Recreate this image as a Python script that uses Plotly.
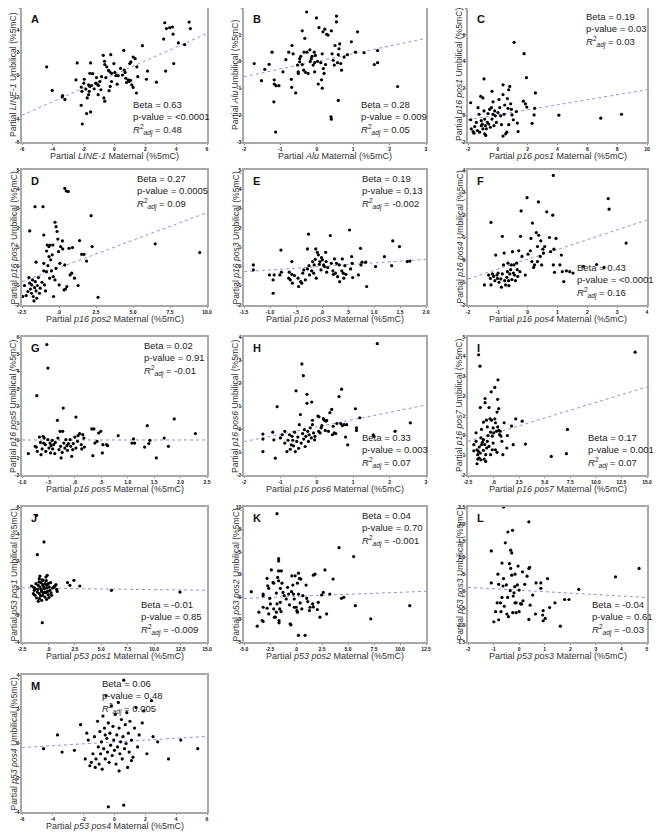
import plotly.graph_objects as go

# ---- data ----
A_pts = [(-4.40, 0.73), (-4.04, -1.38), (-3.37, -1.84), (-3.39, -1.96), (-3.22, -2.19), (-2.42, 1.08),
         (-2.50, -0.44), (-2.16, -1.08), (-2.11, -1.46), (-2.16, -2.72), (-2.09, -4.39), (-1.96, -0.38),
         (-1.99, -0.73), (-1.86, -1.26), (-1.77, -2.05), (-1.68, -1.76), (-1.81, -3.45), (-1.55, -3.31),
         (-1.55, 1.08), (-1.60, 0.15), (-1.42, 0.12), (-1.68, -0.88), (-1.60, -1.02), (-1.49, -0.94),
         (-1.64, -1.46), (-1.32, -1.23), (-1.21, -0.73), (-1.12, -0.82), (-1.04, -0.94), (-1.17, -0.23),
         (-1.06, -1.76), (-0.95, -0.58), (-0.84, -0.15), (-0.88, -1.32), (-0.73, 1.76), (-0.65, 1.23),
         (-0.63, 0.94), (-0.69, -2.05), (-0.63, -2.34), (-0.56, -0.23), (-0.50, 0.73), (-0.39, 0.41),
         (-0.30, 0.29), (-0.24, 1.82), (-0.35, -1.40), (-0.28, -1.02), (-0.19, -0.58), (-0.19, 0.15),
         (-0.04, 1.02), (0.02, 0.23), (0.09, -0.06), (0.17, -0.82), (0.24, -0.06), (0.39, 0.59),
         (0.52, 0.00), (0.60, 2.20), (0.63, 0.44), (0.69, 0.23), (0.73, -0.29), (0.78, -0.67),
         (0.89, -0.44), (0.95, -0.58), (1.04, -0.47), (1.12, -0.88), (1.21, -1.11), (0.99, 1.02),
         (1.06, 1.17), (1.21, 1.61), (1.34, 1.46), (1.45, 0.73), (1.51, -0.15), (1.42, -1.61),
         (1.81, 2.63), (2.14, 0.35), (2.07, -0.38), (2.72, -0.64), (3.19, 3.22), (3.26, 4.68),
         (3.37, 4.16), (3.58, 4.24), (3.76, 4.30), (3.80, 3.66), (3.84, 1.02), (3.32, 0.35),
         (4.14, 2.87), (4.55, 2.72), (4.84, 4.74), (4.92, 4.16)]

B_pts = [(-1.72, -0.07), (-1.43, -0.29), (-1.31, -0.10), (-1.52, -0.71), (-1.23, 0.35), (-1.17, -0.68),
         (-1.17, -0.84), (-1.12, -0.90), (-1.04, -0.90), (-1.18, -1.50), (-1.13, -2.63), (-0.93, -0.38),
         (-0.85, 0.07), (-0.77, 0.35), (-0.70, -0.66), (-0.69, -0.96), (-0.68, 0.60), (-0.65, 0.29),
         (-0.58, -1.17), (-0.53, -0.13), (-0.51, -0.38), (-0.47, -0.01), (-0.44, 0.20), (-0.40, -0.11),
         (-0.40, 1.15), (-0.33, 0.87), (-0.35, 0.35), (-0.28, 1.85), (-0.27, 0.35), (-0.19, 0.44),
         (-0.36, -0.32), (-0.31, -0.40), (-0.24, -0.44), (-0.18, 0.01), (-0.15, 0.11), (-0.13, 0.20),
         (-0.10, -0.13), (-0.07, 0.35), (-0.06, -0.38), (-0.04, 0.23), (-0.01, 1.63), (0.02, 0.01),
         (0.04, -0.84), (0.06, 1.27), (0.11, -0.04), (0.13, -0.68), (0.15, -0.99), (0.17, 1.11),
         (0.15, 0.29), (0.18, -0.26), (0.20, -0.44), (0.22, 1.21), (0.27, 1.02), (0.31, 0.99),
         (0.24, -0.11), (0.39, -2.06), (0.40, -2.15), (0.40, 1.15), (0.42, 0.29), (0.45, 0.05),
         (0.50, 0.60), (0.48, -0.13), (0.54, 1.70), (0.54, 1.48), (0.57, -0.04), (0.59, -1.45),
         (0.61, 0.48), (0.63, 0.66), (0.59, 0.26), (0.66, -0.07), (0.68, -0.32), (0.75, 0.17),
         (0.84, 0.26), (0.95, 0.74), (1.06, 0.35), (1.12, 1.11), (1.30, 0.33), (1.58, -0.11),
         (1.67, 0.41), (1.67, -0.04), (2.22, -0.93), (-0.51, -0.44), (-0.47, 0.11), (-0.06, -0.04)]

C_pts = [(-1.82, 0.93), (-1.82, -0.34), (-1.78, -1.02), (-1.66, -1.22), (-1.60, -1.34), (-1.55, -0.85),
         (-1.44, -0.54), (-1.37, -1.15), (-1.33, 0.56), (-1.26, 0.07), (-1.22, -1.27), (-1.15, 1.41),
         (-1.11, -0.78), (-1.11, -0.41), (-1.04, -0.66), (-1.00, 1.29), (-1.00, -1.02), (-0.93, 2.71),
         (-0.93, 0.32), (-0.88, -0.29), (-0.88, -1.39), (-0.84, -0.78), (-0.81, -1.51), (-0.77, -1.02),
         (-0.70, -0.54), (-0.66, 0.12), (-0.61, -0.66), (-0.55, 0.44), (-0.50, -0.90), (-0.43, 0.56),
         (-0.39, -0.29), (-0.32, 1.00), (-0.32, 0.07), (-0.26, -0.78), (-0.39, 1.78), (-0.21, 0.32),
         (-0.17, -0.05), (-0.10, -0.54), (0.01, 0.20), (0.08, 1.17), (0.13, 0.56), (0.19, -0.05),
         (0.24, -0.71), (0.35, 2.27), (0.35, 1.54), (0.35, -1.56), (0.42, 0.07), (0.46, 0.76),
         (0.53, -1.39), (0.60, -1.27), (0.64, 1.24), (0.68, 0.51), (0.73, -0.71), (0.73, 1.90),
         (0.80, 2.15), (0.86, 0.85), (0.91, 0.44), (0.95, 0.02), (1.09, 5.44), (1.04, -0.34),
         (1.24, 0.27), (1.31, -0.59), (1.36, -1.22), (1.71, 1.05), (1.76, 4.59), (1.85, 0.85),
         (1.92, 2.80), (1.94, 0.61), (2.30, -0.61), (2.43, 0.02), (2.47, 0.51), (2.52, 1.66),
         (4.09, 0.00), (6.90, -0.22), (8.29, 0.07)]

D_pts = [(-2.45, -1.56), (-2.33, -0.99), (-2.22, -1.51), (-2.10, -1.30), (-2.03, -0.58), (-1.98, -0.87),
         (-1.93, -1.17), (-1.98, 1.84), (-1.86, -1.39), (-1.84, -0.96), (-1.79, -0.70), (-1.74, -1.56),
         (-1.69, -1.79), (-1.65, -1.10), (-1.60, -0.79), (-1.55, -1.27), (-1.55, 0.22), (-1.62, 3.10),
         (-1.50, -1.65), (-1.46, -0.99), (-1.39, -0.58), (-1.32, -1.39), (-1.27, -1.13), (-1.15, -0.82),
         (-1.08, 3.10), (-1.03, 1.63), (-1.03, 0.16), (-1.03, -0.23), (-0.98, -0.96), (-0.91, -1.27),
         (-0.84, -0.27), (-0.84, 0.80), (-0.79, 1.11), (-0.75, 0.04), (-0.68, 1.03), (-0.68, 0.51),
         (-0.63, -0.61), (-0.60, 1.11), (-0.56, 0.34), (-0.51, -0.23), (-0.46, 0.60), (-0.41, 1.11),
         (-0.39, -0.53), (-0.37, -1.56), (-0.27, -0.70), (-0.27, 2.29), (-0.20, 2.06), (-0.20, -0.10),
         (-0.13, 1.81), (-0.08, 1.42), (-0.03, 0.77), (0.01, -0.96), (0.06, 0.16), (0.11, 1.03),
         (0.23, 1.32), (0.25, 0.91), (0.34, -1.22), (0.39, 0.08), (0.39, 4.05), (0.44, -1.17),
         (0.49, 3.91), (0.53, -1.04), (0.63, 3.88), (0.75, -0.44), (0.86, -0.35), (0.68, 0.94),
         (0.91, 0.98), (1.05, -0.61), (1.29, -0.99), (1.39, 1.34), (1.53, 0.63), (1.69, 0.63),
         (1.86, 0.28), (2.17, 2.63), (2.24, 1.03), (2.64, -1.60), (6.50, 1.17), (9.51, 0.72)]

E_pts = [(-1.32, 0.08), (-1.32, -0.18), (-1.01, -0.44), (-0.94, -0.70), (-0.92, -0.44), (-0.94, -1.39),
         (-0.79, 0.85), (-0.81, -0.44), (-0.78, -0.30), (-0.64, -0.61), (-0.63, -0.30), (-0.61, -0.70),
         (-0.58, 0.25), (-0.58, -0.41), (-0.57, -0.87), (-0.53, -0.47), (-0.46, -0.61), (-0.45, -1.04),
         (-0.41, -0.79), (-0.39, -0.87), (-0.37, -0.35), (-0.35, -0.18), (-0.32, -0.70), (-0.28, -0.13),
         (-0.28, 0.91), (-0.26, 1.67), (-0.25, 0.04), (-0.24, -0.44), (-0.20, -0.23), (-0.18, 0.25),
         (-0.16, -0.35), (-0.15, 0.08), (-0.13, 0.37), (-0.12, 0.91), (-0.11, -0.61), (-0.09, 0.73),
         (-0.07, 0.60), (-0.05, 0.11), (-0.04, 0.25), (-0.02, -0.18), (-0.01, 0.46), (0.01, 0.34),
         (0.03, 0.08), (0.05, -0.01), (0.07, 0.73), (0.08, 0.25), (0.09, -0.30), (0.11, -0.06),
         (0.16, 1.60), (0.18, 0.16), (0.21, -0.23), (0.22, -0.41), (0.24, 0.39), (0.26, -0.35),
         (0.28, 0.16), (0.30, -0.53), (0.33, 0.08), (0.34, -0.79), (0.38, -0.23), (0.39, 0.39),
         (0.41, -0.35), (0.42, -0.61), (0.44, 0.04), (0.46, -0.41), (0.53, 1.89), (0.55, -0.13),
         (0.57, 0.51), (0.58, 0.16), (0.59, -0.58), (0.70, -0.44), (0.74, 0.94), (0.75, 0.08),
         (0.77, 0.22), (0.84, 0.22), (0.86, -1.04), (1.03, -0.01), (1.20, 0.51), (1.34, 0.04),
         (1.36, 1.32), (1.49, 1.03), (1.64, 0.25), (1.69, 0.28)]

F_pts = [(-1.45, -1.11), (-1.23, 1.67), (-1.31, -0.67), (-1.25, -0.82), (-1.23, -1.11), (-1.18, -0.62),
         (-1.14, -0.73), (-1.10, -0.92), (-1.07, 0.22), (-1.03, -0.67), (-1.01, -0.82), (-0.99, -0.58),
         (-0.96, -0.99), (-0.90, -0.84), (-0.88, -1.21), (-0.85, 1.05), (-0.85, -0.62), (-0.81, -0.22),
         (-0.79, 0.31), (-0.77, -0.92), (-0.74, -1.11), (-0.70, -0.77), (-0.68, -0.52), (-0.66, -0.14),
         (-0.64, -0.92), (-0.63, -1.14), (-0.60, -0.62), (-0.57, -0.43), (-0.55, -0.22), (-0.53, -0.87),
         (-0.51, 0.37), (-0.48, -0.58), (-0.46, -0.22), (-0.44, -0.67), (-0.41, -0.92), (-0.37, -0.14),
         (-0.35, -0.43), (-0.33, -0.73), (-0.30, 0.41), (-0.26, -0.52), (-0.24, 1.05), (-0.22, 2.18),
         (-0.19, 0.16), (-0.08, -0.67), (-0.02, 2.77), (0.01, 0.26), (0.09, 0.41), (0.11, 0.96),
         (0.14, -0.07), (0.16, 1.64), (0.20, -0.33), (0.23, -0.22), (0.29, 1.22), (0.33, 0.60),
         (0.33, -0.07), (0.36, 2.58), (0.37, 1.10), (0.42, 0.16), (0.44, 0.85), (0.47, -0.22),
         (0.51, 0.48), (0.53, 0.31), (0.57, 0.60), (0.64, 2.14), (0.73, 1.00), (0.77, 0.37),
         (0.84, 1.99), (0.86, 3.76), (0.86, -0.22), (0.88, 0.48), (0.90, -0.55), (0.95, 0.96),
         (1.08, -0.22), (1.13, 0.22), (1.16, -0.52), (1.21, -0.96), (1.30, -0.48), (1.41, -0.52),
         (1.52, -0.58), (1.87, -0.28), (2.31, -0.20), (2.56, -0.33), (2.70, 2.73), (2.73, 2.26),
         (3.30, 0.75)]

G_pts = [(-0.88, -0.76), (-0.75, -0.34), (-0.73, -0.38), (-0.72, 2.60), (-0.71, -0.63), (-0.67, 0.20),
         (-0.65, -0.11), (-0.64, -0.82), (-0.62, -0.49), (-0.60, 0.24), (-0.59, -0.15), (-0.58, 0.14),
         (-0.56, -0.24), (-0.55, -0.63), (-0.53, 5.56), (-0.51, 4.20), (-0.51, 0.05), (-0.49, -0.44),
         (-0.47, -0.15), (-0.46, -0.72), (-0.45, -0.30), (-0.43, 0.01), (-0.42, -0.49), (-0.40, -0.24),
         (-0.38, -0.76), (-0.37, -0.11), (-0.33, 1.17), (-0.32, 0.14), (-0.30, -0.53), (-0.28, 0.53),
         (-0.27, -0.34), (-0.26, -1.01), (-0.24, -0.69), (-0.23, 0.53), (-0.22, 1.88), (-0.21, -0.15),
         (-0.19, -0.44), (-0.17, 0.05), (-0.15, -0.30), (-0.14, -0.57), (-0.12, -0.18), (-0.09, 0.05),
         (-0.08, -0.34), (-0.06, -0.92), (-0.04, -0.53), (-0.03, -0.18), (0.00, 0.20), (0.02, 1.36),
         (0.02, -0.44), (0.05, -0.05), (0.06, 0.28), (0.09, 0.40), (0.12, -0.24), (0.13, -0.49),
         (0.15, 0.34), (0.17, 0.14), (0.18, -0.38), (0.32, 0.67), (0.34, -0.88), (0.36, 0.67),
         (0.38, -0.15), (0.42, -0.05), (0.45, 0.43), (0.49, 0.53), (0.52, -0.72), (0.53, -0.24),
         (0.60, -0.24), (0.62, -0.30), (0.82, 0.28), (1.08, -0.15), (1.11, 0.09), (1.13, -0.15),
         (1.32, -0.38), (1.37, 0.86), (1.40, -0.18), (1.42, 0.01), (1.54, -1.01), (1.69, 0.14),
         (1.77, -0.34), (1.88, 1.25), (2.28, 0.40)]

H_pts = [(-1.48, -0.22), (-1.48, -0.44), (-1.48, -0.98), (-1.21, -0.14), (-1.18, -0.47), (-1.14, -1.27),
         (-1.09, 0.97), (-1.00, -0.39), (-0.95, -0.25), (-0.88, -0.10), (-0.88, -0.61), (-0.82, -0.98),
         (-0.79, -0.49), (-0.75, -0.25), (-0.73, -0.88), (-0.70, -0.69), (-0.68, -0.32), (-0.66, -0.49),
         (-0.64, -0.73), (-0.61, -0.14), (-0.59, -0.98), (-0.57, 1.66), (-0.55, -0.54), (-0.52, -0.35),
         (-0.50, -0.84), (-0.48, 0.19), (-0.45, 0.63), (-0.43, -0.61), (-0.41, 2.83), (-0.39, -0.20),
         (-0.37, 2.32), (-0.36, -0.44), (-0.34, -0.03), (-0.32, -0.76), (-0.30, -0.32), (-0.27, 1.51),
         (-0.27, 1.12), (-0.25, -0.10), (-0.23, -0.54), (-0.21, -0.25), (-0.18, 0.05), (-0.15, -0.39),
         (-0.14, 1.17), (-0.12, 0.38), (-0.12, 0.19), (-0.09, -0.17), (-0.06, -0.47), (-0.05, -0.32),
         (0.03, 0.56), (0.05, -0.10), (0.06, 0.53), (0.09, -0.17), (0.12, 0.05), (0.14, 0.15),
         (0.18, 0.45), (0.21, 0.38), (0.23, -0.06), (0.25, 0.34), (0.27, 0.38), (0.32, -0.10),
         (0.36, 0.71), (0.41, 0.85), (0.43, -0.25), (0.45, 0.12), (0.48, -0.17), (0.52, -0.20),
         (0.55, 0.24), (0.61, 1.41), (0.66, 0.24), (0.68, 1.73), (0.70, 0.15), (0.75, 0.19),
         (0.79, -0.35), (0.82, 0.19), (0.85, -0.69), (1.06, 0.88), (1.09, 0.05), (1.09, -0.06),
         (1.18, 0.49), (1.55, -0.25), (1.57, -0.32), (1.66, 3.71), (2.15, -0.10), (2.57, 0.27)]

I_pts = [(-1.93, -0.46), (-1.93, -0.77), (-1.71, -0.29), (-1.71, 0.14), (-1.62, -0.72), (-1.62, -1.43),
         (-1.55, -0.97), (-1.55, -1.19), (-1.49, -0.80), (-1.46, 4.10), (-1.40, -0.58), (-1.40, -1.14),
         (-1.33, 3.52), (-1.30, -0.89), (-1.30, 1.42), (-1.24, -0.12), (-1.24, -1.23), (-1.18, -0.46),
         (-1.18, 0.31), (-1.08, -0.34), (-0.99, 0.68), (-0.99, -0.75), (-0.92, -1.19), (-0.86, -0.46),
         (-0.83, 1.88), (-0.83, 1.67), (-0.77, -0.97), (-0.77, -1.31), (-0.70, 0.78), (-0.67, -0.63),
         (-0.61, 0.44), (-0.61, -0.29), (-0.54, 0.00), (-0.45, 1.42), (-0.35, 0.85), (-0.29, 0.17),
         (-0.29, -0.97), (-0.23, 2.22), (-0.20, 0.78), (-0.13, -0.03), (-0.04, 0.39), (-0.04, -0.38),
         (0.02, 0.14), (0.12, 0.85), (0.12, 2.44), (0.18, 0.65), (0.18, -0.72), (0.28, 0.22),
         (0.34, 1.19), (0.34, -0.85), (0.40, 1.84), (0.40, 0.44), (0.43, 2.83), (0.50, 1.37),
         (0.50, 0.27), (0.59, 0.05), (0.65, 0.22), (0.72, -0.03), (0.81, -0.29), (0.91, -0.97),
         (1.03, 0.65), (1.29, -0.63), (1.35, 0.00), (1.76, 0.48), (1.92, -0.46), (2.17, 0.85),
         (2.80, 0.73), (3.12, -0.43), (5.64, -1.06), (7.12, -0.92), (7.22, 0.31), (13.84, 4.23),
         (-0.99, -0.21), (-0.45, -0.55), (-0.13, -0.72)]

J_pts = [(-1.59, 0.15), (-1.43, -0.42), (-1.34, -0.17), (-1.27, -0.54), (-1.18, 0.32), (-1.12, -0.74),
         (-1.12, 5.38), (-1.05, 2.47), (-1.02, -0.10), (-0.96, -0.99), (-0.86, 0.69), (-0.86, -0.42),
         (-0.80, 0.89), (-0.80, 0.07), (-0.74, -0.59), (-0.71, 0.40), (-0.64, -0.25), (-0.64, -0.91),
         (-0.58, -2.57), (-0.55, 0.25), (-0.49, 0.57), (-0.49, -0.35), (-0.42, 3.41), (-0.39, -0.05),
         (-0.33, -0.67), (-0.30, 0.32), (-0.24, 0.81), (-0.24, -0.35), (-0.17, 0.00), (-0.17, -0.84),
         (-0.11, 0.94), (-0.08, -0.25), (-0.02, 0.32), (-0.02, -0.49), (0.08, 0.07), (0.14, -0.17),
         (0.20, 0.40), (0.30, -0.54), (0.39, 0.00), (0.52, 0.07), (0.61, 0.15), (0.71, 0.25),
         (0.77, -0.10), (0.83, -0.25), (1.81, 0.40), (2.03, 0.20), (2.41, 0.57), (2.97, 0.15),
         (5.96, -0.17), (12.44, -0.30), (-1.27, -0.05), (-0.96, 0.20), (-0.33, -0.30), (-0.55, -0.54),
         (-0.86, -0.79), (-1.40, 0.05), (-0.70, -0.10), (-0.45, 0.10), (-0.20, 0.55), (0.05, -0.70),
         (-1.05, -0.30), (-0.60, 0.60), (0.25, -0.35), (-0.90, 0.45), (-0.15, 0.20)]

K_pts = [(-4.30, 0.59), (-3.16, 0.33), (-3.16, 0.15), (-3.73, -3.24), (-3.57, -1.69), (-3.25, -2.61),
         (-3.16, -2.72), (-3.16, -1.14), (-2.78, 2.06), (-2.71, 1.25), (-2.62, 0.96), (-2.78, -1.25),
         (-2.62, -1.88), (-2.52, -0.15), (-2.46, -0.77), (-2.37, 3.01), (-2.21, 1.62), (-2.14, 1.54),
         (-2.14, -1.32), (-2.08, -2.24), (-1.98, -2.24), (-1.89, 0.44), (-1.89, -1.69), (-1.83, 9.26),
         (-1.83, -0.77), (-1.76, 2.17), (-1.67, 4.26), (-1.67, 4.00), (-1.67, 2.90), (-1.67, 1.80),
         (-1.63, -2.61), (-1.63, -2.87), (-1.57, -1.32), (-1.51, 0.96), (-1.51, -0.59), (-1.44, -1.62),
         (-1.41, 2.90), (-1.35, 1.54), (-1.25, 0.51), (-1.13, 0.15), (-0.94, -0.22), (-0.81, 1.07),
         (-0.71, 0.33), (-0.62, -0.88), (-0.56, -2.98), (-0.49, -3.09), (-0.43, 0.59), (-0.40, 2.35),
         (-0.30, 1.32), (-0.24, 0.33), (-0.17, -0.22), (-0.17, -1.14), (-0.08, 2.35), (0.02, -1.14),
         (0.08, -1.51), (0.14, -1.69), (0.14, 1.54), (0.24, 0.33), (0.24, 2.65), (0.24, -4.26),
         (0.33, 2.06), (0.40, -0.66), (0.46, 1.99), (0.56, -1.32), (0.65, 0.15), (0.87, -4.26),
         (0.97, 1.32), (1.03, -0.15), (1.13, -0.51), (1.29, -1.51), (1.35, -1.14), (1.60, -0.77),
         (1.67, 2.43), (1.83, 2.54), (2.05, -1.40), (2.14, -0.59), (2.30, -2.24), (2.46, 0.22),
         (1.67, -1.10), (2.78, 3.01), (2.62, 0.51), (3.57, 1.99), (2.94, -1.88), (3.25, 0.33),
         (4.14, 5.48), (4.37, -0.15), (4.59, -0.04), (5.54, 4.49), (5.70, -0.96), (7.19, -2.43),
         (10.94, -0.96)]

L_pts = [(-1.09, 1.20), (-1.09, 0.25), (-0.99, -0.90), (-0.92, -0.60), (-0.86, -0.34), (-0.83, 0.51),
         (-0.80, -0.84), (-0.80, 0.21), (-0.73, -0.34), (-0.71, -0.60), (-0.67, 0.84), (-0.67, -0.18),
         (-0.63, 0.16), (-0.61, 2.50), (-0.61, 0.38), (-0.58, -0.44), (-0.54, 1.44), (-0.50, 0.19),
         (-0.48, -0.67), (-0.45, -0.18), (-0.44, 1.76), (-0.42, -0.75), (-0.38, 0.82), (-0.35, 0.02),
         (-0.33, 0.68), (-0.33, 1.22), (-0.29, 1.14), (-0.29, 0.48), (-0.26, 1.81), (-0.25, -0.63),
         (-0.23, -0.14), (-0.20, -0.04), (-0.17, 0.14), (-0.16, -0.34), (-0.16, 0.51), (-0.12, -0.63),
         (-0.12, -0.34), (-0.07, 0.19), (-0.04, 0.75), (0.00, 0.04), (0.00, -0.60), (0.05, -0.36),
         (0.09, -0.38), (0.13, 0.58), (0.15, -0.28), (0.22, 0.21), (0.31, 0.45), (0.38, 0.68),
         (0.41, 0.71), (0.38, 2.06), (0.43, -0.41), (0.38, -0.83), (0.53, -0.11), (0.64, -0.67),
         (0.66, 0.25), (0.85, 0.25), (0.85, 0.09), (0.92, -0.70), (0.94, -0.87), (0.94, -0.57),
         (1.02, -0.80), (1.11, 0.38), (1.19, -0.48), (1.40, -0.34), (1.61, -1.03), (1.78, -0.24),
         (1.95, -0.24), (2.33, 0.06), (3.77, 0.43), (4.69, 0.68)]

M_pts = [(-4.60, -0.30), (-3.70, 0.50), (-3.40, -0.50), (-2.60, -0.40), (-2.20, 1.10), (-1.90, -0.90),
         (-1.70, 0.20), (-1.60, -1.30), (-1.50, -1.10), (-1.40, -0.60), (-1.30, 0.40), (-1.25, -1.40),
         (-1.20, -0.90), (-1.10, 1.30), (-1.05, -0.20), (-1.00, -1.20), (-0.95, 0.70), (-0.90, -0.60),
         (-0.85, 0.10), (-0.80, -1.50), (-0.75, 1.60), (-0.70, -0.30), (-0.65, 0.90), (-0.60, -0.90),
         (-0.55, 2.80), (-0.50, 0.30), (-0.45, -0.50), (-0.40, 1.20), (-0.35, -1.10), (-0.30, 0.60),
         (-0.25, -0.10), (-0.20, 2.20), (-0.15, -0.70), (-0.10, 1.00), (-0.05, 0.20), (0.00, -0.40),
         (0.05, 1.70), (0.10, -1.20), (0.15, 0.50), (0.20, -0.20), (0.25, 2.40), (0.30, 0.90),
         (0.35, -0.60), (0.40, 0.10), (0.45, 1.40), (0.50, -0.90), (0.55, 0.40), (0.60, 3.70),
         (0.65, -0.30), (0.70, 1.10), (0.75, 0.00), (0.80, 1.80), (0.85, -1.40), (0.90, 0.60),
         (0.95, -0.50), (1.00, 1.30), (1.10, 0.20), (1.20, -0.80), (1.30, 0.90), (1.40, 2.10),
         (1.50, -0.20), (1.60, 0.50), (1.80, 1.20), (1.90, 1.90), (2.10, -0.60), (2.40, 2.50),
         (2.50, 0.40), (2.80, 0.10), (3.50, -0.90), (4.30, 0.20), (5.40, -0.30), (-0.40, -3.70),
         (0.60, -3.60), (-1.80, 0.60), (-0.60, 0.50), (0.30, -1.60), (1.10, -1.00)]

letters = ["A", "B", "C", "D", "E", "F", "G", "H", "I", "J", "K", "L", "M"]
genes = ["LINE-1", "Alu", "p16 pos1", "p16 pos2", "p16 pos3", "p16 pos4", "p16 pos5",
         "p16 pos6", "p16 pos7", "p53 pos1", "p53 pos2", "p53 pos3", "p53 pos4"]
points = [A_pts, B_pts, C_pts, D_pts, E_pts, F_pts, G_pts, H_pts, I_pts, J_pts, K_pts, L_pts, M_pts]
x_ranges = [(-6, 6), (-2, 3), (-2, 10), (-2.5, 10), (-1.5, 2), (-2, 4), (-1, 2.5),
            (-2, 3), (-2.5, 15), (-2.5, 15), (-5, 12.5), (-2, 5), (-6, 6)]
y_ranges = [(-6, 6), (-3, 2), (-2, 8), (-2, 5), (-2, 5), (-2, 4), (-2, 6),
            (-2, 4), (-2, 5), (-4, 6), (-5, 10), (-1.5, 2.5), (-4, 4)]
# regression line (intercept, slope)
fit_lines = [(0.05, 0.61), (0.01, 0.286), (0.03, 0.187), (-0.07, 0.286), (0.0, 0.183), (0.03, 0.437),
             (0.03, 0.0), (0.09, 0.318), (0.1, 0.158), (-0.02, -0.01), (0.07, 0.045), (0.034, -0.043),
             (0.09, 0.054)]
betas = ["0.63", "0.28", "0.19", "0.27", "0.19", "0.43", "0.02", "0.33", "0.17", "-0.01", "0.04", "-0.04", "0.06"]
pvals = ["&lt;0.0001", "0.009", "0.03", "0.0005", "0.13", "&lt;0.0001", "0.91", "0.003", "0.001",
         "0.85", "0.70", "0.61", "0.48"]
r2adj = ["0.48", "0.05", "0.03", "0.09", "-0.002", "0.16", "-0.01", "0.07", "0.07", "-0.009",
         "-0.001", "-0.03", "0.005"]

x_ticks = [
    ([-6, -4, -2, 0, 2, 4, 6], ["-6", "-4", "-2", "0", "2", "4", "6"]),
    ([-2, -1, 0, 1, 2, 3], ["-2", "-1", "0", "1", "2", "3"]),
    ([-2, 0, 2, 4, 6, 8, 10], ["-2", "0", "2", "4", "6", "8", "10"]),
    ([-2.5, 0, 2.5, 5, 7.5, 10], ["-2.5", ".0", "2.5", "5.0", "7.5", "10.0"]),
    ([-1.5, -1, -0.5, 0, 0.5, 1, 1.5, 2], ["-1.5", "-1.0", "-.5", ".0", ".5", "1.0", "1.5", "2.0"]),
    ([-2, -1, 0, 1, 2, 3, 4], ["-2", "-1", "0", "1", "2", "3", "4"]),
    ([-1, -0.5, 0, 0.5, 1, 1.5, 2, 2.5], ["-1.0", "-.5", ".0", ".5", "1.0", "1.5", "2.0", "2.5"]),
    ([-2, -1, 0, 1, 2, 3], ["-2", "-1", "0", "1", "2", "3"]),
    ([-2.5, 0, 2.5, 5, 7.5, 10, 12.5, 15], ["-2.5", ".0", "2.5", "5.0", "7.5", "10.0", "12.5", "15.0"]),
    ([-2.5, 0, 2.5, 5, 7.5, 10, 12.5, 15], ["-2.5", ".0", "2.5", "5.0", "7.5", "10.0", "12.5", "15.0"]),
    ([-5, -2.5, 0, 2.5, 5, 7.5, 10, 12.5], ["-5.0", "-2.5", ".0", "2.5", "5.0", "7.5", "10.0", "12.5"]),
    ([-2, -1, 0, 1, 2, 3, 4, 5], ["-2", "-1", "0", "1", "2", "3", "4", "5"]),
    ([-6, -4, -2, 0, 2, 4, 6], ["-6", "-4", "-2", "0", "2", "4", "6"]),
]
y_ticks = [
    ([-6, -4, -2, 0, 2, 4, 6], ["-6", "-4", "-2", "0", "2", "4", "6"]),
    ([-3, -2, -1, 0, 1, 2], ["-3", "-2", "-1", "0", "1", "2"]),
    ([-2, 0, 2, 4, 6, 8], ["-2", "0", "2", "4", "6", "8"]),
    ([-2, -1, 0, 1, 2, 3, 4, 5], ["-2", "-1", "0", "1", "2", "3", "4", "5"]),
    ([-2, -1, 0, 1, 2, 3, 4, 5], ["-2", "-1", "0", "1", "2", "3", "4", "5"]),
    ([-2, -1, 0, 1, 2, 3, 4], ["-2", "-1", "0", "1", "2", "3", "4"]),
    ([-2, -1, 0, 1, 2, 3, 4, 5, 6], ["-2", "-1", "0", "1", "2", "3", "4", "5", "6"]),
    ([-2, -1, 0, 1, 2, 3, 4], ["-2", "-1", "0", "1", "2", "3", "4"]),
    ([-2, -1, 0, 1, 2, 3, 4, 5], ["-2", "-1", "0", "1", "2", "3", "4", "5"]),
    ([-4, -2, 0, 2, 4, 6], ["-4", "-2", "0", "2", "4", "6"]),
    ([-5, -2.5, 0, 2.5, 5, 7.5, 10], ["-5", "-3", "0", "3", "5", "8", "10"]),
    ([-1.5, -1, -0.5, 0, 0.5, 1, 1.5, 2, 2.5], ["-1.5", "-1.0", "-.5", ".0", ".5", "1.0", "1.5", "2.0", "2.5"]),
    ([-4, -2, 0, 2, 4], ["-4", "-2", "0", "2", "4"]),
]

# ---- layout geometry (page pixels; the page body adds an 8px offset) ----
PAGE_W, PAGE_H, OFF = 661, 839, 8
W, H = PAGE_W - OFF, PAGE_H - OFF
col_px = [(22, 207), (244, 426), (468, 647)]
row_px = [(8, 142), (170, 305), (337, 475), (507, 642), (675, 812)]
stat_pos = [(0.59, "bottom"), (0.63, "bottom"), (0.65, "top"), (0.61, "top"), (0.64, "top"),
            (0.60, "bottom"), (0.65, "top"), (0.64, "bottom"), (0.66, "bottom"), (0.63, "bottom"),
            (0.64, "top"), (0.68, "bottom"), (0.42, "top")]

FONT = "Arial, Liberation Sans, sans-serif"
fig = go.Figure()
layout = dict(width=W, height=H, margin=dict(l=0, r=0, t=0, b=0, autoexpand=False),
              paper_bgcolor="white", plot_bgcolor="white", showlegend=False,
              font=dict(family=FONT, color="#222"))
annotations = []

for i in range(13):
    n = i + 1
    sx = "" if n == 1 else str(n)
    r, c = divmod(i, 3)
    x0, x1 = col_px[c]
    y0, y1 = row_px[r]
    xs = [p[0] for p in points[i]]
    ys = [p[1] for p in points[i]]
    b0, b1 = fit_lines[i]
    lx = list(x_ranges[i])
    ly = [b0 + b1 * v for v in lx]
    fig.add_trace(go.Scatter(x=lx, y=ly, mode="lines", xaxis="x" + sx, yaxis="y" + sx,
                             line=dict(color="#8f8fe0", width=1, dash="dot"), hoverinfo="skip"))
    fig.add_trace(go.Scatter(x=xs, y=ys, mode="markers", xaxis="x" + sx, yaxis="y" + sx,
                             marker=dict(color="black", size=3.2), hoverinfo="skip"))

    common = dict(showgrid=False, zeroline=False, showline=True, linecolor="#a8a8a8", linewidth=1.5,
                  mirror=True, ticks="outside", ticklen=1, tickcolor="#888", automargin=False,
                  tickfont=dict(size=5, color="#111", family=FONT, weight="bold"))
    layout["xaxis" + sx] = dict(common, domain=[(x0 - OFF) / W, (x1 - OFF) / W], range=list(x_ranges[i]),
                                anchor="y" + sx, tickvals=x_ticks[i][0], ticktext=x_ticks[i][1])
    layout["yaxis" + sx] = dict(common, domain=[1 - (y1 - OFF) / H, 1 - (y0 - OFF) / H],
                                range=list(y_ranges[i]), anchor="x" + sx, ticklabelstandoff=-1,
                                tickvals=y_ticks[i][0], ticktext=y_ticks[i][1])

    xd, yd = "x" + sx + " domain", "y" + sx + " domain"
    g = genes[i]
    annotations.append(dict(xref=xd, yref=yd, x=0.5, y=0, yanchor="top", xanchor="center", yshift=-7,
                            text=f"Partial <i>{g}</i> Maternal (%5mC)", showarrow=False,
                            font=dict(size=9, color="#333")))
    annotations.append(dict(xref=xd, yref=yd, x=0, y=0.5, xanchor="right", yanchor="middle", xshift=-3,
                            borderpad=0, textangle=-90, text=f"Partial <i>{g}</i> Umbilical (%5mC)",
                            showarrow=False, font=dict(size=8.6, color="#333")))
    annotations.append(dict(xref=xd, yref=yd, x=0, y=1, xanchor="left", yanchor="top", xshift=7, yshift=-3,
                            text=f"<b>{letters[i]}</b>", showarrow=False, font=dict(size=11, color="#111")))
    fx, side = stat_pos[i]
    annotations.append(dict(xref=xd, yref=yd, x=fx, y=0.02 if side == "bottom" else 0.99,
                            xanchor="left", yanchor=side, align="left", showarrow=False,
                            text=(f"Beta = {betas[i]}<br>p-value = {pvals[i]}<br>"
                                  f"<i>R</i><sup>2</sup><sub><i>adj</i></sub> = {r2adj[i]}"),
                            font=dict(size=9.5, color="#222")))

layout["annotations"] = annotations
fig.update_layout(**layout)
fig.write_html("out.html")
